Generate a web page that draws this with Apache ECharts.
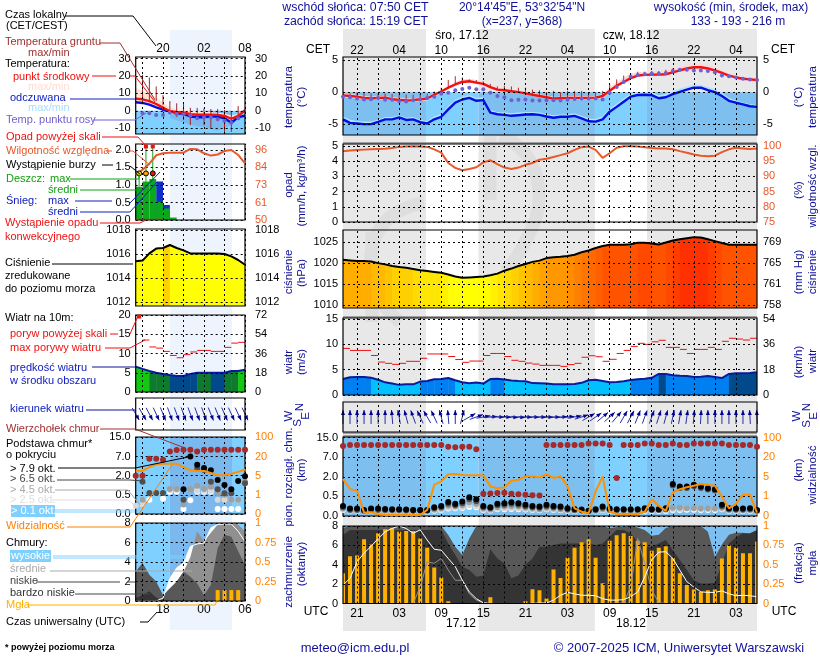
<!DOCTYPE html>
<html>
<head>
<meta charset="utf-8">
<style>html,body{margin:0;padding:0;background:#fff}#main{width:820px;height:660px}</style>
<script src="https://cdn.jsdelivr.net/npm/echarts@6/dist/echarts.min.js"></script>
</head>
<body>
<div id="main"></div>
<script>
// main panels: one value per hour, hour 0 = 16.12 19:00 UTC
let tempMid = [-.5,-.6,-.7,-.9,-1,-.9,-.85,-1.1,-1.2,-1.3,-1.25,-1.1,-1,-.4,.1,.7,1.2,1.6,1.7,1.5,1.3,.8,.4,.3,.15,0,-.2,-.4,-.6,-.8,-1,-.95,-.9,-.9,-.9,-.9,-.85,-.6,.2,1,1.6,2.2,2.6,2.7,2.75,2.75,2.8,3.1,3.4,3.7,3.9,3.9,3.7,3.4,3,2.6,2.3,2.1,2,1.9];
let tempHi = [-.2,-.3,-.4,-.6,-.7,-.6,-.6,-.8,-.9,-1,-1,-.8,-.7,-.2,.4,1,1.6,2,2.1,1.9,1.6,1.1,.7,.6,.4,.3,.1,-.1,-.3,-.5,-.7,-.7,-.6,-.6,-.6,-.6,-.6,-.3,.7,1.6,2.3,2.9,3.1,3.2,3.2,3.3,3.4,3.8,4,4.3,4.4,4.4,4.2,3.9,3.5,3,2.7,2.4,2.3,2.2];
let tempLo = [-.8,-.9,-1,-1.1,-1.2,-1.2,-1.1,-1.3,-1.4,-1.5,-1.5,-1.4,-1.3,-.7,-.1,.5,1,1.4,1.5,1.3,1.1,.6,.2,.1,0,-.2,-.4,-.6,-.8,-1,-1.2,-1.2,-1.1,-1.1,-1.1,-1.1,-1.1,-.9,-.1,.8,1.4,2,2.4,2.5,2.6,2.6,2.6,2.9,3.2,3.5,3.7,3.7,3.5,3.2,2.8,2.4,2.1,1.9,1.8,1.7];
let dewPoint = [-.7,-.8,-1,-1.15,-1.1,-.9,-1.2,-1.2,-1.4,-1.45,-1.25,-1.1,-.9,-.7,-.25,-.1,.3,.5,.7,.45,.45,-.1,-.6,-.8,-1.25,-1.2,-1.15,-1.3,-1.3,-1.25,-1.25,-1.3,-1.2,-1.05,-1,-1,-1,-1.15,-.1,.8,1.6,2.4,2.7,2.8,2.9,2.9,3,3.3,3.5,3.5,3.4,3.4,3.3,3.1,2.6,2.5,2.3,2.1,2,1.9];
let groundHi = [-.2,-.2,0,-.1,-.2,-.2,-.2,-.3,-.3,-.4,-.4,-.3,-.2,.1,.7,1.9,2.5,2.3,2,1.9,1.7,1.3,.9,1,.9,.7,.7,.4,.3,0,.2,0,.2,.2,.2,0,0,.2,1.35,2,2.6,2.9,3.2,3.2,3.3,3.3,3.5,3.7,3.6,3.7,3.9,3.7,3.7,3.5,3.2,2.6,2.5,2.3,2.1,2.1];
let apparent = [-4.25,-4.8,-4.9,-5,-5,-4.65,-4.25,-4.25,-3.95,-4.35,-4.25,-4.7,-4.9,-4.25,-3.85,-2.7,-1.65,-1.15,-.9,-1.35,-1.25,-3.2,-3.45,-3.55,-3.7,-3.6,-3.5,-3.45,-3.55,-3.8,-4,-3.85,-3.85,-3.7,-4.1,-4.55,-4.6,-4.25,-3.05,-2.3,-1.5,-.7,-.45,-.4,-.45,-.95,-.8,-.3,.05,.4,.7,.7,.3,0,-.6,-1.35,-1.65,-1.9,-2.2,-2.3];
let apparentHi = [-3.8,-4.3,-4.5,-4.6,-4.6,-4.3,-3.9,-3.9,-3.6,-4,-3.9,-4.3,-4.5,-3.8,-3.4,-2.2,-1.2,-.7,-.5,-.9,-.8,-2.8,-3.1,-3.2,-3.3,-3.2,-3.1,-3.1,-3.2,-3.4,-3.6,-3.5,-3.5,-3.3,-3.7,-4.1,-4.2,-3.8,-2.6,-1.8,-1,-.2,0,.05,0,-.5,-.3,.2,.6,.9,1.2,1.2,.8,.5,-.1,-.9,-1.3,-1.6,-1.9,-2];
let humidity = [98.3,98.5,98.7,98.8,98.9,99,99.1,99.3,99.7,99.8,99.9,99.8,99.7,98.9,97.8,94.4,92.8,92,92.4,93,94.6,95.3,94,92.9,92.4,92.9,93.8,94.4,95.5,95.8,96.4,97,97.6,98.7,99.6,99.8,98.7,96.1,97.6,99.4,99.9,99.9,99.8,99.6,99.3,99.2,99.2,98.9,98.3,97.8,97.2,96.8,96.6,96.8,98,98.9,99.4,99.2,99,99.2];
let pressure = [1020.8,1020.65,1020.5,1020.5,1020.4,1020,1019.7,1019.3,1019.05,1018.9,1018.6,1018.3,1018.1,1017.9,1017.7,1017.3,1016.8,1016.5,1016.6,1016.7,1016.8,1017.1,1017.5,1018.2,1018.7,1019.3,1019.8,1020.3,1020.6,1021.2,1021.4,1021.5,1021.7,1022,1022.6,1023,1023.6,1024.1,1024.4,1024.4,1024.4,1024.5,1024.85,1024.85,1024.7,1024.45,1024.9,1025.4,1025.7,1025.95,1026.2,1026.1,1025.7,1025.25,1024.8,1024.4,1024.4,1024.4,1024.4,1024.4];
let windMean = [3.15,3.5,3.55,3.55,3.4,3,2.5,2.25,2,2.1,2.1,2.65,2.75,3.1,3.15,3.35,2.9,2.5,2.3,2.45,2.25,3.15,3.2,3.05,2.85,2.75,2.7,2.35,2.3,2.25,2.1,2.1,2.1,2.15,2.4,2.9,3,2.75,2.5,2.55,2.7,2.95,3.1,3.2,3.4,4.15,4.15,3.9,3.8,3.75,3.55,3.6,3.75,3.55,3.35,4.15,4.3,4.3,4.35,4.5];
let windClass = [1,1,1,1,0,0,0,0,0,0,0,1,1,1,1,1,0,0,0,0,0,1,1,0,0,0,0,0,0,0,0,0,0,0,0,0,0,0,0,0,0,1,1,1,1,2,1,1,1,1,1,1,1,1,1,2,2,2,2];
let windGust = [9.2,8.8,8.8,8.8,7.8,6.5,6.25,6.05,6.25,6.65,6.65,7.25,8.1,8.1,8.1,7.6,7,6.45,6.7,6.7,7.8,8.2,8.2,7.6,6.85,6.65,6.3,6.1,5.85,5.85,5.85,5.65,6,6.25,7.45,7.75,7.55,6.65,7.05,8.2,8.8,9.6,10.2,10,10.5,10.8,9.4,9.4,9,8.2,9,9,9.4,9,10.6,11.2,11.05,10.85,11.2];
let windDir = [0,0,0,0,0,0,0,-5,-10,-15,-20,-25,-30,-25,-15,-5,0,15,60,70,80,85,90,92,95,95,93,92,92,92,92,88,85,80,72,60,55,50,48,40,30,28,22,20,20,18,15,12,10,8,5,3,0,0,0,0,0,0,-3,-3];
// cloud base panel values are in axis steps: 0 = 0.0, 1 = 0.5, 2 = 2.0, 3 = 7.0, 4 = 15.0 km
let cloudTop = [3.57,3.62,3.62,3.62,3.62,3.62,3.62,3.62,3.62,3.62,3.62,3.62,3.62,3.62,3.62,3.53,3.51,3.53,3.53,3.4,1.13,1.15,1.17,1.18,1.13,1.11,1.08,1.06,1.04,3.62,3.62,3.62,3.62,3.62,3.62,3.7,3.7,3.7,3.62,1.94,3.62,3.62,3.62,3.7,3.7,3.62,3.62,3.7,3.62,3.62,3.7,3.7,3.7,3.7,3.7,3.62,3.62,3.62,3.62,3.53];
let baseBlack = [.51,.38,.38,.31,.38,.38,.36,.34,.34,.33,.31,.31,.31,.45,.51,.72,.62,.74,.96,.86,.51,.45,.62,.65,.7,.65,.57,.51,.48,.57,.51,.48,.39,.36,.33,.27,.34,.48,.38,.34,.34,.34,.34,.39,.34,.34,.39,1.63,1.51,1.51,1.6,1.51,1.42,1.37,.57,.39,.38,.38,.39,.31];
let baseDark = [.45,.32,.32,.27,.32,.32,.31,.3,.3,.29,.28,.28,.28,.39,.45,.62,.55,.65,.85,.75,.45,.39,.55,.58,.62,.58,.5,.45,.42,.5,.45,.42,.34,.31,.29,.26,.3,.42,.33,.3,.3,.3,.3,.34,.3,.3,.34,1.55,1.43,1.43,1.52,1.43,1.35,1.3,.5,.34,.33,.33,.34,.28];
let baseMid = [.38,.28,.28,.25,.28,.28,.27,.27,.27,.26,.25,.25,.25,.33,.38,.52,.5,.55,.7,.62,.38,.33,.45,.48,.5,.48,.42,.38,.35,.42,.38,.35,.3,.28,.26,.24,.27,.35,.29,.27,.27,.27,.27,.3,.36,.36,.36,.42,.42,.4,.4,.38,.38,.38,.42,.3,.29,.29,.3,.25];
let baseLight = [.32,.25,.25,.23,.25,.25,.24,.24,.24,.23,.22,.22,.22,.28,.32,.42,.42,.45,.55,.5,.32,.28,.37,.38,.4,.38,.35,.32,.3,.35,.32,.3,.26,.25,.24,.22,.24,.3,.26,.24,.24,.24,.24,.26,.28,.28,.28,.35,.35,.38,.38,.36,.36,.36,.36,.26,.25,.25,.26,.23];
let baseWhite = [.31,.26,.26,.25,.26,.26,.25,.25,.25,.24,.24,.24,.24,.28,.31,.38,.39,.41,.46,.44,.31,.28,.34,.34,.36,.34,.33,.31,.29,.34,.31,.29,.27,.26,.25,.24,.25,.3,.27,.25,.25,.25,.25,.26,.26,.26,.26,.31,.31,.32,.32,.31,.31,.31,.34,.27,.26,.26,.27,.24];
let visibility = [1.89,1.37,1.29,.17,.19,.09,.05,.05,.05,.05,.05,.05,.31,1.6,1.77,2.13,2.14,2.09,2.08,2.08,2.08,1.51,1.42,1.46,1.8,1.85,2.02,2.02,1.96,2.13,1.94,2.02,1.51,.39,.22,.14,1.25,2.02,.22,.1,.1,.1,.1,.22,.86,.51,.26,1.2,1.37,1.47,1.54,1.63,1.6,1.54,.99,.39,.62,1.08,1.08,.17];
let cloudLow = [7.8,8,8,8,8,8,8,8,8,8,8,8,8,8,8,7.07,5.86,5,6.72,8,8,8,8,8,8,8,8,8,8,8,8,8,8,8,8,8,8,8,7.8,7.9,7.9,8,7.85,7.6,7,7.1,7.8,8,8,8,8,8,7.4,4.8,6.1,7.1,7.3,7.3,7.1,7.4];
let cloudVeryLow = [7.07,7.6,7.6,7.6,7.6,7.6,7.6,7.6,7.6,7.6,7.6,7.6,7.6,7.6,7.6,6.2,5,3.8,3.45,2.75,2.9,5.6,4.65,4.14,2.6,2.9,4,4.65,5.86,5.86,6.03,6.2,6.2,6.2,6.2,6.2,6.03,6.2,6.9,7.6,7.6,7.24,6.38,5.86,5.86,6.2,6.55,5.5,4.5,3.45,2.4,2.07,2.07,2.14,4.14,6.2,6.83,7.24,7.24,7.6];
let cloudHigh = [1.9,2.6,4.3,5.2,5.9,6.7,7.4,7.75,8,7.75,7.25,7.6,6.55,5.6,5.5,4.65,3.8,2.4,1.2,.5,.07,0,0,0,0,0,0,0,.05,.05,.35,.85,1.15,1,.85,.85,.8,.5,.35,.35,.4,.7,1.2,2.75,4.5,5.3,5.35,4.65,3.45,2.25,1.7,1.2,1.15,1.15,1.3,1,.8,.85,.8,.7];
let cloudMid = [0,0,0,0,0,0,0,0,0,0,0,1.7,4.3,4.15,4.65,3.45,2.4,2.4,1,.35,.07,0,0,0,0,0,0,0,0,0,0,0,0,0,0,0,0,0,0,0,.07,1.7,6.7,4.15,1.4,.07,0,0,0,0,0,0,0,0,0,0,0,0,0,0];
let fog = [.39,.61,.62,.83,.76,.905,.957,.97,.927,.935,.935,.84,.72,.465,.336,.03,0,0,0,0,0,.08,0,0,0,0,.03,.185,.17,.065,.44,.33,.59,.72,.79,.83,.59,.26,.81,.88,.905,.87,.81,.79,.68,.72,.74,.59,.39,.24,.18,.15,.17,.18,.58,.75,.72,.65,.65,.8];

// small panels: one value per hour, hour 0 = 16.12 14:00 UTC
let nowTempMid = [7,6.6,5.6,3.9,1.8,-.3,-.7,-1,-2,-2.3,-2.3,-2.3,-2.4,-3,-4.6,-3,.3];
let nowTempHi = [13.3,11.4,9.8,8,5,2,1,.8,-.2,-.2,-.2,-.8,-1.2,-1.6,-2.8,-1.8,1.2];
let nowTempLo = [5,4.5,3.8,2,0,-1.5,-2,-2.2,-3,-3.2,-3.2,-3.2,-3.2,-4,-5.5,-4,-.5];
let nowApparent = [4.9,4.5,3.5,2,.6,-.4,-1.4,-1.8,-3.3,-3.7,-3.7,-3.3,-3.3,-4.3,-6.9,-3.7,-2.9];
let nowApparentLow = [0,0,0,0,-2.5,-4,-5.4,-6.8,-8,-8.9,-9.5,-10.5,-11.5,-10,-8,-4,-1.5];
let nowDew = [null,-1.4,-1.4,-2.5,-2.5,-1,-1.8,-2,-2.7,-4.3,-3.9,-3.9,-4.9,-5.7,-6.9,-4.3,null];
let nowGroundHi = [null,20.7,19.2,14,9,5.6,4.3,4.8,1.7,1.7,1.4,1,1,.4,-.6,2.7,null];
let nowGroundLo = [null,5,5,5.6,3.3,-1,-3.5,-5.4,-8.3,-4.5,-8.3,-10.3,-5.4,-13.2,-12.2,-5.4,null];
let nowHumidity = [79.6,83,87,92.5,93.8,94.2,94.2,94.2,96.7,96.4,93.8,92.3,93,95.3,96,92.7,87.2];
let nowRain = [.95,1.1,1.17,.52,.33,.07];
let nowSnow = [0,0,0,1.1,.43,0];
let nowRainMax = [1.33,2.1,2.1];
let nowPressure = [1015.4,1015.45,1016.05,1016.45,1016.5,1016.75,1016.5,1016.3,1016.05,1016.05,1016.05,1016.05,1016.05,1016,1015.8,1015.5,1015.1];
let nowWindMean = [6.6,6,5.45,5,4.7,4.4,4.15,4.15,4.7,5,5,5,5,5,5.45,5.45,5.8];
let nowWindClass = [4,4,3,3,3,2,2,2,2,3,3,2,2,3,3,4];
let nowGust = [null,13.5,11.7,11.4,10.55,9.5,8.9,9.7,10.4,10.8,10.8,10.55,10.55,11.6,12.7,12.9];
let nowWindDir = [150,150,152,155,158,160,160,160,160,160,160,158,158,156,155,155,155];
let nowCloudTop = [2,2,2.88,2.88,2.83,3.26,3.34,3.36,3.36,3.26,3.36,3.36,3.36,3.36,3.36,3.36,3.36];
let nowBlack = [null,null,null,null,null,null,null,1.29,3,2.57,2.4,2.28,1.77,1.51,1.29,1.72,1.97];
let nowDark = [null,1.68,1.1,1.1,1.1,null,null,.74,null,2.37,2.3,1.68,1.29,1.08,1.08,null,1.6];
let nowMid = [null,.74,null,null,null,1.3,1.3,.5,1.29,1.48,1.3,1.42,1.08,1,.74,.74,1.68];
let nowLight = [.43,.48,null,null,null,1.25,1.25,null,null,1.22,1.22,1.22,.74,.74,.74,.74,null];
let nowWhite = [null,.74,.74,null,.79,1.16,1.16,.26,.72,1.16,1.16,1.16,.26,.26,.26,.26,null];
let nowVisibility = [2.25,2.25,2.45,2.59,2.62,2.62,2.62,2.45,2.28,2.25,2.25,2.14,2.02,2.02,2.1,2.2,2.32];
let nowCloudVeryLow = [.3,.6,1,.35,0,0,0,0,0,0,0,0,0,0,0,0,0];
let nowCloudLow = [3,3.9,2.7,2,.6,1.3,2,3,2.5,1.8,.6,1.65,5.4,6.8,6.6,5.1,3.7];
let nowCloudMid = [0,0,0,0,0,1,2,3,4.5,7.15,6.1,7,7.85,7.9,8,7.85,7.15];
let nowCloudHigh = [0,0,0,0,.3,2.3,3.4,3.9,5.6,5.85,5.95,7.5,7.85,7.9,7.9,7.15,6.1];
let nowFog = [0,0,0,0,0,0,0,0,0,0,0,0,.14,.14,.14,.14,0];

let font = 'Liberation Sans, Arial, sans-serif';
let navy = '#10109a', orange = '#ff8000', humColor = '#e8582a';
let windColors = ['#00c0ff', '#0080f0', '#004a8c', '#0e7a2e', '#12c812'];

let grids = [], xAxes = [], yAxes = [], series = [];

let sides = {
  R: { left: 343, width: 414, max: 59, start: 19, localShift: 1, marginTop: 0, marginBottom: 4, lines: [2,5,8,11,14,17,20,23,26,29,32,35,38,41,44,47,50,53,56], labels: [2,8,14,20,26,32,38,44,50,56],
    blue: [[0,11.83,'#7dbfee'],[11.83,19.32,'#80d0ff'],[19.32,35.9,'#7dbfee'],[35.9,43.32,'#80d0ff'],[43.32,59,'#7dbfee']] },
  L: { left: 135.7, width: 109.3, max: 16, start: 14, localShift: 2, marginTop: 2, marginBottom: 3, lines: [1,4,7,10,13,16], labels: [4,10,16],
    blue: [[0,5,'#80d0ff'],[5,14.1,'#7ab8ee'],[14.1,16,'#80d0ff']] },
};
let hourName = (v) => String(v % 24).padStart(2, '0');

function addPanel(c) {
  let s = sides[c.side];
  let i = grids.length;
  grids.push({ left: s.left, top: c.top, width: s.width, height: c.bottom - c.top, show: false });
  let xLabel = { show: !!c.xPos, color: '#000', fontSize: 12, fontFamily: font, margin: c.xPos === 'top' ? s.marginTop : s.marginBottom,
    customValues: s.labels, formatter: (v) => hourName(v + s.start + (c.xPos === 'top' ? s.localShift : 0)) };
  xAxes.push({ gridIndex: i, type: 'value', min: 0, max: s.max, position: c.xPos || 'bottom', z: 8,
    axisLine: { show: false }, axisTick: { show: false }, splitLine: { show: false }, axisLabel: xLabel });
  let ticks = c.ticks || [];
  let rTicks = c.rightTicks || ticks;
  let rLabels = c.rightLabels || c.labels;
  yAxes.push({ gridIndex: i, type: 'value', min: c.min, max: c.max, position: 'left', z: 8,
    axisLine: { show: false }, axisTick: { show: false }, splitLine: { show: false },
    axisLabel: { show: ticks.length > 0, customValues: ticks, margin: 5, color: '#000', fontSize: 11, fontFamily: font,
      formatter: (v) => c.labels[ticks.indexOf(v)] } });
  yAxes.push({ gridIndex: i, type: 'value', min: c.rightMin ?? c.min, max: c.rightMax ?? c.max, position: 'right', z: 8,
    axisLine: { show: false }, axisTick: { show: false }, splitLine: { show: false },
    axisLabel: { show: ticks.length > 0, customValues: rTicks, margin: c.side === 'L' ? 10 : 6, color: c.rightColor || '#000', fontSize: 11, fontFamily: font,
      formatter: (v) => rLabels[rTicks.indexOf(v)] } });

  // panel background, then dashed grid and frame on top of the data
  let bg = [];
  if (c.blueTo !== undefined) {
    s.blue.forEach((b) => bg.push([{ xAxis: b[0], yAxis: c.min, itemStyle: { color: b[2] } }, { xAxis: b[1], yAxis: c.blueTo }]));
  }
  series.push({ type: 'line', data: [], xAxisIndex: i, yAxisIndex: 2 * i, z: 1, silent: true,
    markArea: { silent: true, z: 1, data: bg } });
  let lines = s.lines.map((v) => ({ xAxis: v })).concat(ticks.map((v) => ({ yAxis: v })));
  series.push({ type: 'line', data: [], xAxisIndex: i, yAxisIndex: 2 * i, z: 5, silent: true,
    markLine: { silent: true, z: 5, symbol: 'none', label: { show: false }, animation: false,
      lineStyle: { color: '#000', type: [2, 3], width: 1 }, data: lines },
    markArea: { silent: true, z: 6, itemStyle: { color: 'rgba(0,0,0,0)', borderColor: '#000', borderWidth: 1.2 },
      data: [[{ xAxis: 0, yAxis: c.min }, { xAxis: s.max, yAxis: c.max }]] } });
  return i;
}

let pairs = (arr) => arr.map((v, h) => [h, v]);

function addLine(p, arr, color, width, z, extra) {
  series.push(Object.assign({ type: 'line', xAxisIndex: p, yAxisIndex: 2 * p, data: pairs(arr), showSymbol: false, silent: true,
    lineStyle: { color: color, width: width }, itemStyle: { color: color }, z: z || 3 }, extra || {}));
}
function addArea(p, arr, color, z) {
  addLine(p, arr, color, 0, z, { areaStyle: { color: color, opacity: 1, origin: 'start' } });
}
function addDots(p, arr, color, size, z) {
  let rows = pairs(arr).filter((r) => r[1] !== null);
  series.push({ type: 'scatter', xAxisIndex: p, yAxisIndex: 2 * p, data: rows, symbolSize: size, silent: true,
    itemStyle: { color: color, opacity: 1 }, z: z || 7 });
}
function addCustom(p, rows, renderItem, z, clip, rightAxis) {
  series.push({ type: 'custom', xAxisIndex: p, yAxisIndex: 2 * p + (rightAxis ? 1 : 0), data: rows, renderItem: renderItem, z: z || 3,
    clip: clip !== false, silent: true, encode: { x: 0, y: 1 } });
}
// filled band between two arrays
function addBand(p, hi, lo, color, z) {
  addCustom(p, [[0, 0]], (params, api) => {
    let top = hi.map((v, h) => api.coord([h, v]));
    let bottom = lo.map((v, h) => api.coord([h, v])).reverse();
    return { type: 'polygon', shape: { points: top.concat(bottom) }, style: { fill: color } };
  }, z);
}
// area under a curve with a colour for each hour step
function addSteps(p, arr, colorOf, floor, z) {
  let rows = arr.slice(0, -1).map((v, h) => [h, v, arr[h + 1]]);
  addCustom(p, rows, (params, api) => {
    let h = api.value(0);
    let pts = [api.coord([h, api.value(1)]), api.coord([h + 1, api.value(2)]), api.coord([h + 1, floor]), api.coord([h, floor])];
    pts[1][0] += 0.5; pts[2][0] += 0.5;
    return { type: 'polygon', shape: { points: pts }, style: { fill: colorOf(h, api.value(1), api.value(2)) } };
  }, z || 2);
}
function addVerticals(p, rows, color, width, z) {
  addCustom(p, rows, (params, api) => {
    let a = api.coord([api.value(0), api.value(1)]);
    let b = api.coord([api.value(0), api.value(2)]);
    return { type: 'line', shape: { x1: a[0], y1: a[1], x2: b[0], y2: b[1] }, style: { stroke: color, lineWidth: width } };
  }, z);
}
function addDashes(p, arr, color) {
  let rows = pairs(arr).filter((r) => r[1] !== null);
  addCustom(p, rows, (params, api) => {
    let a = api.coord([api.value(0), api.value(1)]);
    let b = api.coord([api.value(0) + 1, api.value(1)]);
    return { type: 'line', shape: { x1: a[0], y1: a[1], x2: b[0], y2: b[1] }, style: { stroke: color, lineWidth: 1 } };
  }, 4);
}
function addArrows(p, arr) {
  addCustom(p, arr.map((a, h) => [h, 0.5, a]), (params, api) => {
    let c = api.coord([api.value(0), 0.5]);
    let a = api.value(2) * Math.PI / 180;
    let dx = Math.sin(a), dy = -Math.cos(a), len = 7;
    let tip = [c[0] + dx * len, c[1] + dy * len], tail = [c[0] - dx * len, c[1] - dy * len];
    let base = [tip[0] - dx * 5, tip[1] - dy * 5];
    return { type: 'group', children: [
      { type: 'line', shape: { x1: tail[0], y1: tail[1], x2: tip[0], y2: tip[1] }, style: { stroke: '#2830a8', lineWidth: 1 } },
      { type: 'polygon', shape: { points: [tip, [base[0] - dy * 2, base[1] + dx * 2], [base[0] + dy * 2, base[1] - dx * 2]] }, style: { fill: '#000090' } },
    ] };
  }, 4, false);
}
function addFog(p, arr) {
  addCustom(p, pairs(arr).filter((r) => r[1] > 0), (params, api) => {
    let a = api.coord([api.value(0), api.value(1)]);
    let b = api.coord([api.value(0), 0]);
    return { type: 'rect', shape: { x: a[0] - 2, y: a[1], width: 4, height: b[1] - a[1] }, style: { fill: '#ffb000' } };
  }, 4, true, true);
}
function addBlocks(p, arr, color, z) {
  addCustom(p, pairs(arr).filter((r) => r[1] > 0), (params, api) => {
    let a = api.coord([api.value(0), api.value(1)]);
    let b = api.coord([api.value(0) + 1, 0]);
    return { type: 'rect', shape: { x: a[0], y: a[1], width: b[0] - a[0], height: b[1] - a[1] }, style: { fill: color } };
  }, z);
}

// page wide day and night stripes
function addStripes(side, top, bottom, ranges, color) {
  let s = sides[side];
  let i = grids.length;
  grids.push({ left: s.left, top: top, width: s.width, height: bottom - top, show: false });
  xAxes.push({ gridIndex: i, type: 'value', min: 0, max: s.max, show: false });
  yAxes.push({ gridIndex: i, type: 'value', min: 0, max: 1, show: false });
  yAxes.push({ gridIndex: i, type: 'value', min: 0, max: 1, show: false });
  series.push({ type: 'line', data: [], xAxisIndex: i, yAxisIndex: 2 * i, z: 0, silent: true,
    markArea: { silent: true, z: 0, itemStyle: { color: color },
      data: ranges.map((r) => [{ xAxis: r[0], yAxis: 0 }, { xAxis: r[1], yAxis: 1 }]) } });
}
addStripes('R', 29, 631, [[0, 11.83], [19.32, 35.9], [43.32, 59]], '#e8e8e8');
addStripes('L', 30, 630, [[5, 14.1]], '#eef4fd');

// ---- main panels ----
let pT = addPanel({ side: 'R', top: 57, bottom: 135, min: -6.7, max: 5.5, ticks: [5, 0, -5], labels: ['5', '0', '-5'], blueTo: 0, xPos: 'top' });
addBand(pT, apparentHi, apparent, '#b4e4ff', 2);
addBand(pT, tempHi, tempLo, '#ffd8d8', 2);
addVerticals(pT, tempMid.map((v, h) => [h, v, groundHi[h]]), '#b03030', 1, 3);
addLine(pT, apparent, '#0010e0', 2.4, 4);
addLine(pT, tempMid, '#f01010', 2.4, 4);
addDots(pT, dewPoint, '#7060d0', 4, 6);

let pR = addPanel({ side: 'R', top: 144, bottom: 222, min: 0, max: 5.13, ticks: [0, 1, 2, 3, 4, 5], labels: ['0', '1', '2', '3', '4', '5'],
  rightMin: 75, rightMax: 100.65, rightTicks: [75, 80, 85, 90, 95, 100], rightLabels: ['75', '80', '85', '90', '95', '100'], rightColor: humColor });
addLine(pR, humidity, humColor, 2, 4, { yAxisIndex: 2 * pR + 1 });

let pP = addPanel({ side: 'R', top: 230, bottom: 308, min: 1009.3, max: 1027.9, ticks: [1010, 1015, 1020, 1025], labels: ['1010', '1015', '1020', '1025'],
  rightLabels: ['758', '761', '765', '769'] });
let pressureColor = (h, a, b) => {
  let p = Math.round((a + b)) / 2;
  let g = Math.max(30, Math.min(255, Math.round(255 - 22.6 * (p - 1016.9))));
  return 'rgb(255,' + g + ',0)';
};
addSteps(pP, pressure, pressureColor, 1009.3);
addLine(pP, pressure, '#000', 2, 4);

let pW = addPanel({ side: 'R', top: 318, bottom: 395, min: 0, max: 15.2, ticks: [0, 5, 10, 15], labels: ['0', '5', '10', '15'], rightLabels: ['0', '18', '36', '54'] });
addSteps(pW, windMean, (h) => windColors[windClass[h]], 0);
addLine(pW, windMean, '#0a1a9a', 2, 4);
addDashes(pW, windGust, '#f01010');

let pD = addPanel({ side: 'R', top: 402, bottom: 432, min: 0, max: 1 });
addArrows(pD, windDir);

let baseTicks = [0, 1, 2, 3, 4];
let pB = addPanel({ side: 'R', top: 437, bottom: 516, min: 0, max: 4.03, ticks: baseTicks, labels: ['0.0', '0.5', '2.0', '7.0', '15.0'],
  rightLabels: ['0', '1', '5', '20', '100'], rightColor: orange, blueTo: 4.03 });
addDots(pB, baseWhite, '#ffffff', 6, 7);
addDots(pB, baseLight, '#d8d8d8', 6, 7);
addDots(pB, baseMid, '#a0a0a0', 6, 7);
addDots(pB, baseDark, '#505050', 6, 7);
addDots(pB, baseBlack, '#000000', 6, 7);
addDots(pB, cloudTop, '#a52a2a', 6, 7);
addLine(pB, visibility, '#ff9000', 2, 8);

let cloudTicks = [0, 2, 4, 6, 8];
let pC = addPanel({ side: 'R', top: 526, bottom: 603.5, min: 0, max: 8, ticks: cloudTicks, labels: ['0', '2', '4', '6', '8'],
  rightMin: 0, rightMax: 1, rightTicks: [0, .25, .5, .75, 1], rightLabels: ['0', '0.25', '0.5', '0.75', '1'], rightColor: orange, blueTo: 8, xPos: 'bottom' });
addArea(pC, cloudLow, '#585858', 2);
addArea(pC, cloudVeryLow, '#343434', 3);
addFog(pC, fog);
addLine(pC, cloudMid, '#909090', 1, 4);
addLine(pC, cloudHigh, '#ffffff', 1, 4);

// ---- small panels ----
let qT = addPanel({ side: 'L', top: 57, bottom: 134, min: -13.4, max: 31, ticks: [30, 20, 10, 0, -10], labels: ['30', '20', '10', '0', '-10'], blueTo: 0, xPos: 'top' });
addArea(qT, nowApparentLow, '#80d0ff', 2);
addBand(qT, nowTempHi, nowTempLo, '#ffe4d4', 2);
addVerticals(qT, nowGroundHi.map((v, h) => [h, nowGroundLo[h], v]).filter((r) => r[2] !== null), '#a02828', 1, 3);
addLine(qT, nowApparent, '#0010e0', 2.4, 4);
addLine(qT, nowTempMid, '#f01010', 2.4, 4);
addDots(qT, nowDew, '#7060d0', 4, 6);

let qR = addPanel({ side: 'L', top: 144, bottom: 220, min: 0, max: 2.17, ticks: [0, .5, 1, 1.5, 2], labels: ['0.0', '0.5', '1.0', '1.5', '2.0'],
  rightMin: 50, rightMax: 99.9, rightTicks: [50, 61.5, 73, 84.5, 96], rightLabels: ['50', '61', '73', '84', '96'], rightColor: humColor });
addBlocks(qR, nowSnow, '#0f2fc8', 2);
addBlocks(qR, nowRain, '#0aa81a', 3);
addVerticals(qR, nowRainMax.map((v, i) => [i + .5, nowRain[i], v]), '#0aa81a', 1, 3);
let rainMarks = [.5, 1.5, 2.5];
series.push({ type: 'scatter', xAxisIndex: qR, yAxisIndex: 2 * qR, silent: true, z: 7, symbolSize: 4, symbol: 'rect', itemStyle: { color: '#f01010', opacity: 1 },
  data: [[rainMarks[1], nowRainMax[1]], [rainMarks[2], nowRainMax[2]]] });
series.push({ type: 'scatter', xAxisIndex: qR, yAxisIndex: 2 * qR, silent: true, z: 7, symbolSize: 5, data: [
  { value: [rainMarks[0], 1.33], itemStyle: { color: '#ffe000', borderColor: '#000', borderWidth: 1, opacity: 1 } },
  { value: [rainMarks[1], 1.33], itemStyle: { color: '#ffa000', borderColor: '#000', borderWidth: 1, opacity: 1 } },
  { value: [rainMarks[2], 1.33], itemStyle: { color: '#f01010', borderColor: '#000', borderWidth: 1, opacity: 1 } },
] });
series.push({ type: 'line', xAxisIndex: qR, yAxisIndex: 2 * qR, silent: true, z: 8, showSymbol: false, data: [[0, .02], [4, .02]],
  lineStyle: { color: '#f01010', width: 1, type: [3, 2] } });
addLine(qR, nowHumidity, humColor, 2, 6, { yAxisIndex: 2 * qR + 1 });

let qP = addPanel({ side: 'L', top: 229, bottom: 306, min: 1011.67, max: 1018.08, ticks: [1012, 1014, 1016, 1018], labels: ['1012', '1014', '1016', '1018'] });
addSteps(qP, nowPressure, (h, a, b) => (b >= 1016.7 ? '#ffd000' : '#ffff00'), 1011.67);
addLine(qP, nowPressure, '#000', 2, 4);

let qW = addPanel({ side: 'L', top: 315, bottom: 392, min: 0, max: 20, ticks: [0, 5, 10, 15, 20], labels: ['0', '5', '10', '15', '20'], rightLabels: ['0', '18', '36', '54', '72'] });
addSteps(qW, nowWindMean, (h) => windColors[nowWindClass[h]], 0);
addLine(qW, nowWindMean, '#0a1a9a', 2, 4);
addDashes(qW, nowGust, '#f01010');
series.push({ type: 'scatter', xAxisIndex: qW, yAxisIndex: 2 * qW, silent: true, z: 7, symbolSize: 4, symbol: 'rect', itemStyle: { color: '#f01010', opacity: 1 }, data: [[.5, 19.6]] });

let qD = addPanel({ side: 'L', top: 398, bottom: 430, min: 0, max: 1 });
addArrows(qD, nowWindDir);

let qB = addPanel({ side: 'L', top: 437, bottom: 514, min: 0, max: 4.02, ticks: baseTicks, labels: ['0.0', '0.5', '2.0', '7.0', '15.0'],
  rightLabels: ['0', '1', '5', '20', '100'], rightColor: orange, blueTo: 4.02 });
addDots(qB, nowWhite, '#ffffff', 6, 7);
addDots(qB, nowLight, '#d8d8d8', 6, 7);
addDots(qB, nowMid, '#a0a0a0', 6, 7);
addDots(qB, nowDark, '#505050', 6, 7);
addDots(qB, nowBlack, '#000000', 6, 7);
addDots(qB, nowCloudTop, '#a52a2a', 6, 7);
addLine(qB, nowVisibility, '#ff9000', 2, 8);

let qC = addPanel({ side: 'L', top: 523, bottom: 601, min: 0, max: 8, ticks: cloudTicks, labels: ['0', '2', '4', '6', '8'],
  rightMin: 0, rightMax: 1, rightTicks: [0, .25, .5, .75, 1], rightLabels: ['0', '0.25', '0.5', '0.75', '1'], rightColor: orange, blueTo: 8, xPos: 'bottom' });
addArea(qC, nowCloudHigh, '#ffffff', 2);
addArea(qC, nowCloudMid, '#909090', 2);
addArea(qC, nowCloudLow, '#585858', 3);
addArea(qC, nowCloudVeryLow, '#343434', 3);
addFog(qC, nowFog);
addLine(qC, nowCloudHigh, '#ffffff', 1, 4);

// ---- texts and leader lines ----
let black = '#000', red = '#f01010', brick = '#a03030', green = '#10a010', blue = '#1020c0', purple = '#7060d0', grey1 = '#444', grey2 = '#aaa', grey3 = '#ddd', lblue = '#80d0ff';
let textRows = [
  [5, 15, 'Czas lokalny', black], [6, 26, '(CET/CEST)', black],
  [5, 42, 'Temperatura gruntu', brick], [28, 53, 'max/min', brick],
  [5, 64, 'Temperatura:', black], [13, 77, 'punkt środkowy', red], [28, 87, 'max/min', '#ffdcd0'],
  [10, 98, 'odczuwana', blue], [28, 108, 'max/min', '#a8dcff'], [6, 120, 'Temp. punktu rosy', purple],
  [6, 137, 'Opad powyżej skali', red], [6, 151, 'Wilgotność względna', humColor], [6, 165, 'Wystąpienie burzy', black],
  [6, 179, 'Deszcz:', green], [50, 179, 'max', green], [48, 190, 'średni', green],
  [6, 201, 'Śnieg:', blue], [48, 201, 'max', blue], [48, 212, 'średni', blue],
  [5, 223, 'Wystąpienie opadu', red], [5, 237, 'konwekcyjnego', red],
  [5, 263, 'Ciśnienie', black], [5, 276, 'zredukowane', black], [5, 289, 'do poziomu morza', black],
  [5, 318, 'Wiatr na 10m:', black], [10, 334, 'poryw powyżej skali', red], [10, 348, 'max porywy wiatru', red],
  [10, 368, 'prędkość wiatru', blue], [10, 381, 'w środku obszaru', blue], [10, 409, 'kierunek wiatru', blue],
  [6, 429, 'Wierzchołek chmur', brick], [6, 444, 'Podstawa chmur*', black], [6, 455, 'o pokryciu', black],
  [10, 469, '> 7.9 okt.', black], [10, 479, '> 6.5 okt.', grey1], [10, 490, '> 4.5 okt.', grey2], [10, 500, '> 2.5 okt.', grey3],
  [11, 511, '> 0.1 okt.', '#fff'], [6, 526, 'Widzialność', orange], [6, 543, 'Chmury:', black],
  [11, 556, 'wysokie', '#fff'], [10, 569, 'średnie', grey2], [10, 581, 'niskie', grey1], [10, 593, 'bardzo niskie', '#333'],
  [6, 605, 'Mgła', '#ffb000'], [6, 622, 'Czas uniwersalny (UTC)', black],
];
let leaders = [
  [black, [[65, 16], [133, 16], [156, 46]]],
  [brick, [[100, 43], [120, 43], [155, 100]]],
  [red, [[92, 76], [116, 76]]], [red, [[130, 76], [135, 76], [155, 102]]],
  [blue, [[70, 99], [135, 99]]],
  [purple, [[93, 120], [135, 120], [146, 113]]],
  [red, [[102, 137], [138, 137], [146, 146]]],
  [humColor, [[106, 151], [112, 151]]], [humColor, [[128, 151], [133, 151], [150, 165]]],
  [black, [[102, 165], [113, 165]]], [black, [[130, 166], [140, 174]]],
  [green, [[70, 179], [139, 179], [139, 173]]], [green, [[80, 190], [145, 190]]],
  [blue, [[75, 201], [112, 201]]], [blue, [[130, 203], [160, 172]]],
  [blue, [[80, 212], [130, 212], [157, 182]]],
  [red, [[100, 223], [140, 223], [146, 220]]],
  [black, [[52, 264], [133, 264]]],
  [red, [[110, 334], [118, 334]]], [red, [[130, 334], [138, 316]]],
  [red, [[105, 348], [130, 348], [145, 340]]],
  [navy, [[92, 367], [135, 367]]], [navy, [[86, 410], [135, 410]]],
  [brick, [[100, 429], [135, 429], [185, 448]]],
  [black, [[58, 468], [135, 468], [193, 456]]],
  [grey1, [[57, 480], [130, 480], [143, 481]]],
  [grey2, [[55, 490], [128, 490], [140, 505]]],
  [grey3, [[52, 500], [128, 500], [137, 507]]],
  [lblue, [[55, 510], [135, 510]]], [lblue, [[55, 512], [135, 512]]],
  [orange, [[67, 527], [130, 527], [172, 465]]],
  [lblue, [[53, 556], [186, 556]]], [lblue, [[53, 558], [186, 558]]],
  [grey2, [[50, 571], [192, 571]]],
  [grey1, [[36, 582], [120, 582]]], [grey1, [[128, 582], [135, 582]]],
  [grey1, [[75, 594], [150, 594]]],
  ['#ffb000', [[27, 605], [215, 605], [219, 597]]],
  [black, [[140, 622], [148, 622], [157, 612]]],
];
// rotated axis titles: x, centre y, text
let sideTitles = [
  [289, 97, 'temperatura'], [302, 97, '(°C)'], [799, 97, '(°C)'], [813, 97, 'temperatura'],
  [289, 185, 'opad'], [302, 186, '(mm/h, kg/m³/h)'], [799, 190, '(%)'], [813, 186, 'wilgotność wzgl.'],
  [289, 272, 'ciśnienie'], [302, 273, '(hPa)'], [799, 272, '(mm Hg)'], [813, 272, 'ciśnienie'],
  [289, 362, 'wiatr'], [302, 362, '(m/s)'], [799, 362, '(km/h)'], [813, 361, 'wiatr'],
  [289, 477, 'pion. rozciągł. chm.'], [302, 470, '(km)'], [799, 470, '(km)'], [813, 475, 'widzialność'],
  [289, 572, 'zachmurzenie'], [302, 564, '(oktanty)'], [799, 563, '(frakcja)'], [813, 563, 'mgła'],
  [289, 416, 'W'], [300, 407, 'N'], [298, 423, 'S'], [306, 416, 'E'],
  [797, 416, 'W'], [807, 407, 'N'], [807, 424, 'S'], [814, 416, 'E'],
];
let centerRows = [
  [355.5, 8, 'wschód słońca: 07:50 CET', navy, 12.3], [356, 22, 'zachód słońca: 15:19 CET', navy, 12.3],
  [522, 8, '20°14\'45"E, 53°32\'54"N', navy, 12], [522, 22, '(x=237, y=368)', navy, 12],
  [731, 8, 'wysokość (min, środek, max)', navy, 12], [738, 22, '133 - 193 - 216 m', navy, 12],
  [462, 36, 'śro, 17.12', black, 12], [631, 36, 'czw, 18.12', black, 12],
  [318, 50, 'CET', black, 12], [783, 50, 'CET', black, 12], [316, 612, 'UTC', black, 12], [784, 612, 'UTC', black, 12],
  [461, 624, '17.12', black, 12], [631, 624, '18.12', black, 12],
  [355, 648, 'meteo@icm.edu.pl', navy, 13], [679, 648, '© 2007-2025 ICM, Uniwersytet Warszawski', navy, 13],
];
// faint logo strokes in the night stripes, day stripes are laid back over them
let logoStrokes = [
  [400, 322, 372, 300, 362, 262, 378, 232],
  [378, 232, 386, 216, 404, 206, 424, 203],
  [372, 232, 372, 260, 372, 290, 372, 322],
  [490, 136, 490, 150, 490, 180, 490, 200],
  [500, 136, 540, 150, 548, 200, 530, 232],
  [530, 232, 522, 250, 515, 262, 505, 272],
];
let dayStripes = [[426, 52], [595, 52]];
// thick grey rules beside some panel edges
let greyRules = [143, 317, 433, 436];

let graphic = [];
logoStrokes.forEach((b) => graphic.push({ type: 'bezierCurve', shape: { x1: b[0], y1: b[1], cpx1: b[2], cpy1: b[3], cpx2: b[4], cpy2: b[5], x2: b[6], y2: b[7] },
  style: { stroke: '#dedede', lineWidth: 13, fill: null }, z: 0.4, silent: true }));
dayStripes.forEach((r) => graphic.push({ type: 'rect', shape: { x: r[0], y: 29, width: r[1], height: 602 }, style: { fill: '#fff' }, z: 0.5, silent: true }));
greyRules.forEach((y) => graphic.push({ type: 'line', shape: { x1: 343, y1: y, x2: 757, y2: y }, style: { stroke: '#888', lineWidth: 1.5 }, z: 0.6, silent: true }));
graphic.push({ type: 'rect', shape: { x: 11, y: 505, width: 44, height: 12 }, style: { fill: lblue }, z: 20, silent: true });
graphic.push({ type: 'rect', shape: { x: 10, y: 550, width: 41, height: 12 }, style: { fill: lblue }, z: 20, silent: true });
leaders.forEach((l) => graphic.push({ type: 'polyline', shape: { points: l[1] }, style: { stroke: l[0], lineWidth: 1, fill: null }, z: 21, silent: true }));
textRows.forEach((t) => graphic.push({ type: 'text', x: t[0], y: t[1], z: 22, silent: true,
  style: { text: t[2], fill: t[3], font: '11px ' + font, textAlign: 'left', textVerticalAlign: 'middle' } }));
centerRows.forEach((t) => graphic.push({ type: 'text', x: t[0], y: t[1], z: 22, silent: true,
  style: { text: t[2], fill: t[3], font: t[4] + 'px ' + font, textAlign: 'center', textVerticalAlign: 'middle' } }));
sideTitles.forEach((t) => graphic.push({ type: 'text', x: t[0], y: t[1], z: 22, silent: true, rotation: Math.PI / 2,
  style: { text: t[2], fill: navy, font: '11.5px ' + font, textAlign: 'center', textVerticalAlign: 'middle' } }));
graphic.push({ type: 'text', x: 5, y: 648, z: 22, silent: true,
  style: { text: '* powyżej poziomu morza', fill: black, font: 'bold 9px ' + font, textAlign: 'left', textVerticalAlign: 'middle' } });

let chart = echarts.init(document.getElementById('main'), null, { renderer: 'canvas' });
chart.setOption({
  animation: false,
  backgroundColor: '#fff',
  grid: grids,
  xAxis: xAxes,
  yAxis: yAxes,
  series: series,
  graphic: graphic,
});
</script>
</body>
</html>
